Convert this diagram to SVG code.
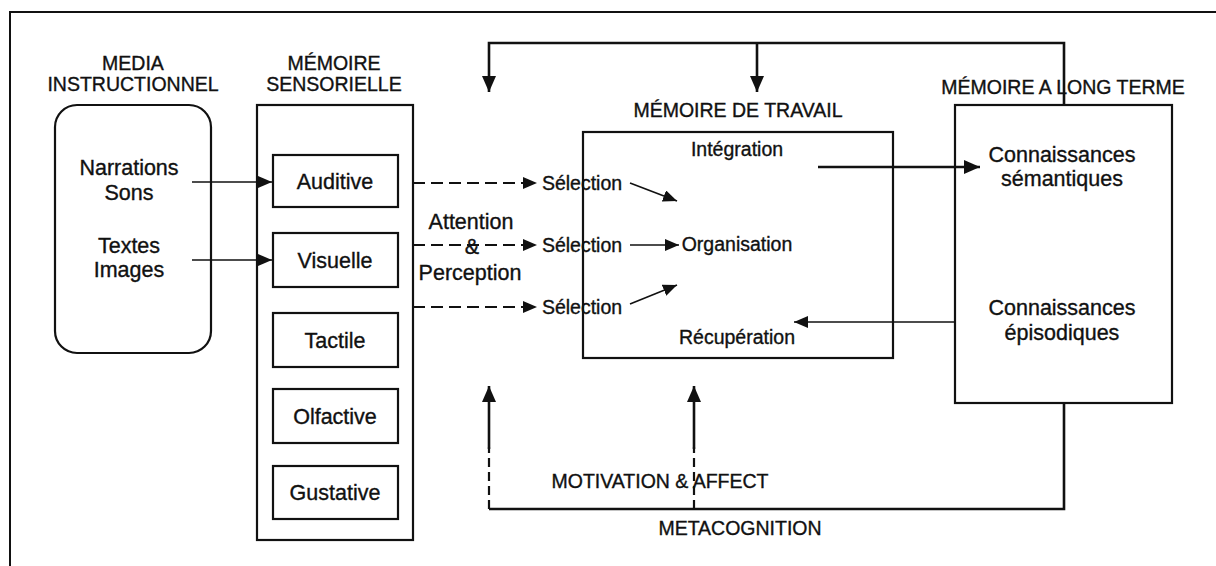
<svg xmlns="http://www.w3.org/2000/svg" width="1216" height="566" viewBox="0 0 1216 566">
<style>
text{font-family:"Liberation Sans",Arial,sans-serif;fill:#111;stroke:#111;stroke-width:0.35;text-anchor:middle}
.h{font-size:19.5px}
.t{font-size:21.5px}
.s{font-size:19.5px}
.box{fill:#fff;stroke:#111;stroke-width:2.2}
.ln{fill:none;stroke:#111;stroke-width:1.6}
.thk{fill:none;stroke:#111;stroke-width:2.6}
.dash{fill:none;stroke:#111;stroke-width:1.8;stroke-dasharray:12 6}
.vdash{fill:none;stroke:#111;stroke-width:2.2;stroke-dasharray:9 5}
</style>
<defs>
<marker id="ah" markerUnits="userSpaceOnUse" markerWidth="14" markerHeight="12" refX="14" refY="6" orient="auto"><path d="M0,0 L14,6 L0,12 z" fill="#111"/></marker>
<marker id="ahb" markerUnits="userSpaceOnUse" markerWidth="16" markerHeight="14" refX="16" refY="7" orient="auto"><path d="M0,0 L16,7 L0,14 z" fill="#111"/></marker>
</defs>
<rect width="1216" height="566" fill="#fff"/>
<path d="M10,566 V12 H1216" fill="none" stroke="#111" stroke-width="2"/>

<g id="media">
<text class="h" x="133" y="70">MEDIA</text>
<text class="h" x="133" y="91">INSTRUCTIONNEL</text>
<rect class="box" x="55" y="105" width="156" height="248" rx="22"/>
<text class="t" x="129" y="175">Narrations</text>
<text class="t" x="129" y="200">Sons</text>
<text class="t" x="129" y="253">Textes</text>
<text class="t" x="129" y="277">Images</text>
</g>

<g id="sensorielle">
<text class="h" x="334" y="70">MÉMOIRE</text>
<text class="h" x="334" y="91">SENSORIELLE</text>
<rect class="box" x="257" y="105" width="156" height="435"/>
</g>
<g id="auditive"><rect class="box" x="273" y="155" width="125" height="52"/><text class="t" x="335" y="189">Auditive</text></g>
<g id="visuelle"><rect class="box" x="273" y="233" width="125" height="54"/><text class="t" x="335" y="268">Visuelle</text></g>
<g id="tactile"><rect class="box" x="273" y="313" width="125" height="54"/><text class="t" x="335" y="348">Tactile</text></g>
<g id="olfactive"><rect class="box" x="273" y="389" width="125" height="54"/><text class="t" x="335" y="424">Olfactive</text></g>
<g id="gustative"><rect class="box" x="273" y="466" width="125" height="53"/><text class="t" x="335" y="500">Gustative</text></g>

<g id="attention">
<text class="t" x="471" y="229">Attention</text>
<text class="t" x="472" y="254">&amp;</text>
<text class="t" x="470" y="280">Perception</text>
</g>

<g id="travail">
<text class="h" x="738" y="117">MÉMOIRE DE TRAVAIL</text>
<rect class="box" x="583" y="132" width="310" height="226" style="fill:none"/>
<text class="s" x="737" y="156">Intégration</text>
<text class="s" x="737" y="251">Organisation</text>
<text class="s" x="737" y="344">Récupération</text>
</g>

<g id="selection">
<text class="s" x="582" y="190">Sélection</text>
<text class="s" x="582" y="252">Sélection</text>
<text class="s" x="582" y="314">Sélection</text>
</g>

<g id="longterme">
<text class="h" x="1063" y="94">MÉMOIRE A LONG TERME</text>
<rect class="box" x="955" y="105" width="217" height="298"/>
<text class="t" x="1062" y="162">Connaissances</text>
<text class="t" x="1062" y="186">sémantiques</text>
<text class="t" x="1062" y="315">Connaissances</text>
<text class="t" x="1062" y="340">épisodiques</text>
</g>

<g id="labels">
<text class="h" x="660" y="488">MOTIVATION &amp; AFFECT</text>
<text class="h" x="740" y="535">METACOGNITION</text>
</g>

<g id="connectors">
<line class="ln" x1="192" y1="182" x2="272" y2="182" marker-end="url(#ah)"/>
<line class="ln" x1="192" y1="260" x2="272" y2="260" marker-end="url(#ah)"/>
<line class="dash" x1="413" y1="183" x2="537" y2="183" marker-end="url(#ah)"/>
<line class="dash" x1="413" y1="245" x2="537" y2="245" marker-end="url(#ah)"/>
<line class="dash" x1="413" y1="307" x2="537" y2="307" marker-end="url(#ah)"/>
<line class="ln" x1="630" y1="183" x2="677" y2="201" marker-end="url(#ah)"/>
<line class="ln" x1="630" y1="245" x2="679" y2="245" marker-end="url(#ah)"/>
<line class="ln" x1="630" y1="304" x2="677" y2="285" marker-end="url(#ah)"/>
<line class="thk" x1="818" y1="167" x2="980" y2="167" marker-end="url(#ahb)"/>
<line class="ln" x1="955" y1="322" x2="794" y2="322" marker-end="url(#ah)"/>
<path class="thk" d="M1064,105 V43 H489 V92" marker-end="url(#ahb)"/>
<line class="thk" x1="757" y1="43" x2="757" y2="92" marker-end="url(#ahb)"/>
<path class="thk" d="M1064,403 V509 H489"/>
<line class="vdash" x1="489" y1="509" x2="489" y2="447"/>
<line class="thk" x1="489" y1="449" x2="489" y2="386" marker-end="url(#ahb)"/>
<line class="vdash" x1="694" y1="509" x2="694" y2="447"/>
<line class="thk" x1="694" y1="449" x2="694" y2="386" marker-end="url(#ahb)"/>
</g>
</svg>
